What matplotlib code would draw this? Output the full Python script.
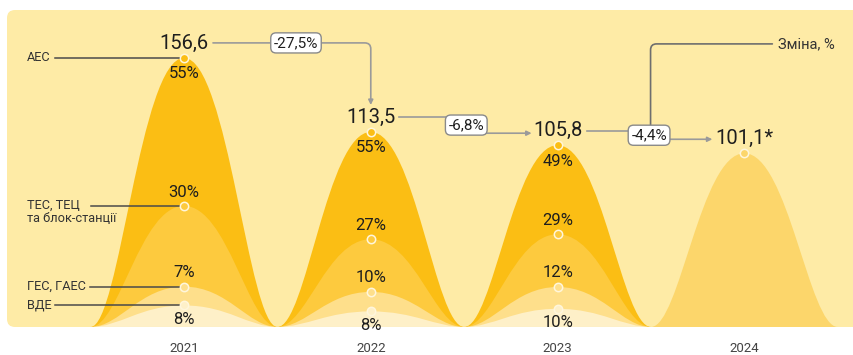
import matplotlib.pyplot as plt
from matplotlib.path import Path
from matplotlib.patches import PathPatch, FancyBboxPatch
from matplotlib.transforms import IdentityTransform

plt.rcParams['font.family'] = ['Roboto', 'DejaVu Sans']

# дані
years = ['2021', '2022', '2023', '2024']
total = [156.6, 113.5, 105.8, 101.1]
total_labels = ['156,6', '113,5', '105,8', '101,1*']
aes = [55, 55, 49]
tes = [30, 27, 29]
ges = [7, 10, 12]
vde = [8, 8, 10]
changes = ['-27,5%', '-6,8%', '-4,4%']
sources = ['АЕС', 'ТЕС, ТЕЦ\nта блок-станції', 'ГЕС, ГАЕС', 'ВДЕ']

# кольори
c_bg = '#FEEBA6'
c_aes = '#FBBE14'
c_tes = '#FDCA3E'
c_ges = '#FEDF8B'
c_vde = '#FEF0C8'
c_last = '#FCD66B'
c_txt = '#1E1E1E'
c_line = '#9A9A9A'

W, H = 854, 355
x_lo, x_hi = -0.985, 3.587
y_lo, y_hi = -16.3, 190.3
px_x = W / (x_hi - x_lo)
px_y = H / (y_hi - y_lo)

fig = plt.figure(figsize=(W / 100, H / 100), dpi=100)
ax = fig.add_axes([0, 0, 1, 1])
ax.set_xlim(x_lo, x_hi)
ax.set_ylim(y_lo, y_hi)
ax.axis('off')

# фон
ax.add_patch(FancyBboxPatch((7, 28), 880, 317, boxstyle='round,pad=0,rounding_size=8',
                            fc=c_bg, ec='none', transform=IdentityTransform(), zorder=0))


def bump(c, h, color, z):
    a, b, hw = 0.31, 0.53, 0.5
    x0 = c - hw
    verts = [(x0, 0), (x0 + a * hw, 0), (x0 + b * hw, h), (c, h),
             (c + (1 - b) * hw, h), (c + (1 - a) * hw, 0), (c + hw, 0), (x0, 0)]
    codes = [Path.MOVETO] + [Path.CURVE4] * 6 + [Path.CLOSEPOLY]
    ax.add_patch(PathPatch(Path(verts, codes), fc=color, ec='none', zorder=z))


def dot(x, y, color):
    ax.plot(x, y, 'o', ms=6, mfc=color, mec='#FFF6DC', mew=1.1, zorder=10)


# стовпчики-хвилі
for i in range(3):
    t = total[i]
    lv_tes = t * (tes[i] + ges[i] + vde[i]) / 100
    lv_ges = t * (ges[i] + vde[i]) / 100
    lv_vde = t * vde[i] / 100
    bump(i, t, c_aes, 1)
    bump(i, lv_tes, c_tes, 2)
    bump(i, lv_ges, c_ges, 3)
    bump(i, lv_vde, c_vde, 4)
    dot(i, t, c_aes)
    dot(i, lv_tes, c_tes)
    dot(i, lv_ges, c_ges)
    dot(i, lv_vde, c_vde)
    kw = dict(textcoords='offset points', ha='center', va='center', fontsize=12, color=c_txt, zorder=11)
    ax.annotate(f'{aes[i]}%', (i, t), xytext=(0, -16 * 0.72), **kw)
    ax.annotate(f'{tes[i]}%', (i, lv_tes), xytext=(0, 13.5 * 0.72), **kw)
    ax.annotate(f'{ges[i]}%', (i, lv_ges), xytext=(0, 14 * 0.72), **kw)
    ax.annotate(f'{vde[i]}%', (i, lv_vde), xytext=(0, -14 * 0.72), **kw)
    if i == 0:
        levels = [t, lv_tes, lv_ges, lv_vde]

bump(3, total[3], c_last, 1)
dot(3, total[3], c_last)

# підписи значень
ly = [t + 15 / px_y for t in total]
for i, lab in enumerate(total_labels):
    ax.text(i, ly[i], lab, ha='center', va='center', fontsize=14.5, color=c_txt, zorder=11)

# роки
for i, y in enumerate(years):
    ax.text(i, -22 / px_y, y, ha='center', va='center', fontsize=9.5, color='#444444')

# підписи джерел
line_start = [55, 91, 90, 55]
for lab, lev, ls in zip(sources, levels, line_start):
    if '\n' in lab:
        ax.text((27 - 184) / px_x, lev + 7.5 / px_y, lab, ha='left', va='top', fontsize=9.2,
                color='#333333', linespacing=1.1)
    else:
        ax.text((27 - 184) / px_x, lev, lab, ha='left', va='center', fontsize=9.2, color='#333333')
    ax.plot([(ls - 184) / px_x, -4 / px_x], [lev, lev], color='#4A4A4A', lw=1.1, zorder=9)

# стрілки змін
arr = dict(arrowstyle='-|>', color=c_line, lw=1.2, shrinkA=0, shrinkB=0, mutation_scale=7)
box = dict(boxstyle='round,pad=0.2,rounding_size=0.35', fc='white', ec='#8A8A8A', lw=1)

# 2021 -> 2022
ax.annotate('', xy=(1, ly[1] + 12 / px_y), xytext=(29 / px_x, ly[0]),
            arrowprops=dict(connectionstyle='angle,angleA=0,angleB=90,rad=6', **arr), zorder=5)
ax.text(112 / px_x, ly[0], changes[0], ha='center', va='center', fontsize=11, color=c_txt,
        bbox=box, zorder=12)

# 2022 -> 2023
ax.plot([1 + 28 / px_x, 1 + 80 / px_x], [ly[1], ly[1]], color=c_line, lw=1.2, zorder=5)
ax.annotate('', xy=(2 - 26 / px_x, ly[2] - 3 / px_y), xytext=(1 + 100 / px_x, ly[2] - 3 / px_y),
            arrowprops=arr, zorder=5)
ax.text(1 + 95.5 / px_x, (ly[1] + ly[2] - 3 / px_y) / 2, changes[1], ha='center', va='center',
        fontsize=11, color=c_txt, bbox=box, zorder=12)

# 2023 -> 2024
ax.plot([2 + 29 / px_x, 2 + 80 / px_x], [ly[2] - 1 / px_y, ly[2] - 1 / px_y], color=c_line, lw=1.2, zorder=5)
ax.annotate('', xy=(3 - 32 / px_x, ly[3] - 1 / px_y), xytext=(2 + 100 / px_x, ly[3] - 1 / px_y),
            arrowprops=arr, zorder=5)
y_box = (ly[2] + ly[3] - 2 / px_y) / 2
ax.annotate('', xy=(3 + 28 / px_x, ly[0] - 1 / px_y), xytext=(2 + 93 / px_x, y_box),
            arrowprops=dict(arrowstyle='-', color='#6E6E6E', lw=1.2, shrinkA=0, shrinkB=0,
                            connectionstyle='angle,angleA=90,angleB=0,rad=6'), zorder=5)
ax.text(2 + 91.5 / px_x, y_box, changes[2], ha='center', va='center',
        fontsize=11, color=c_txt, bbox=box, zorder=12)
ax.text(3 + 34 / px_x, ly[0] - 1 / px_y, 'Зміна, %', ha='left', va='center', fontsize=10.5, color='#333333')

fig.savefig('out.png', dpi=100)
